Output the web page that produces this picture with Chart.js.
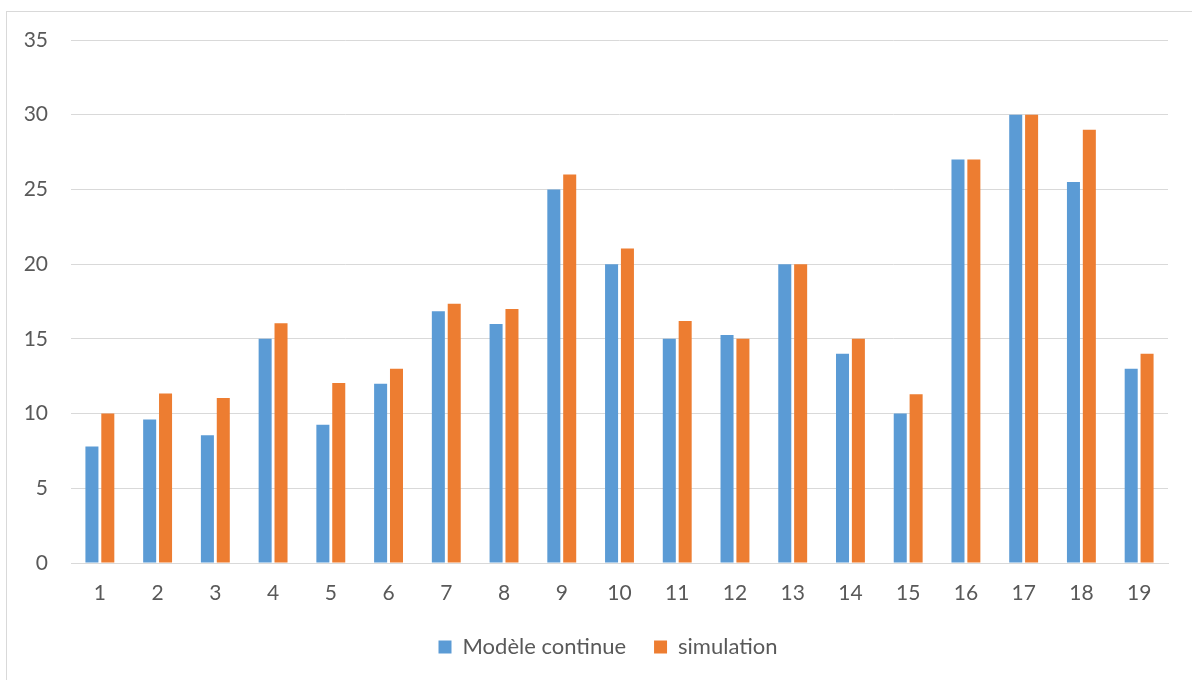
<!DOCTYPE html>
<html>
<head>
<meta charset="utf-8">
<script src="https://cdn.jsdelivr.net/npm/chart.js@4"></script>
<style>
    html, body { margin: 0; padding: 0; background: #fff; }
    #wrap { position: relative; width: 1192px; height: 680px; overflow: hidden; }
    #frame { position: absolute; left: 6px; top: 11px; width: 1200px; height: 700px; border: 1px solid #d9d9d9; }
    #chart { position: absolute; left: 0; top: 0; }
</style>
</head>
<body>
<div id="wrap">
    <div id="frame"></div>
    <canvas id="chart" width="1192" height="680"></canvas>
</div>
<script>
var categories = ['1', '2', '3', '4', '5', '6', '7', '8', '9', '10',
    '11', '12', '13', '14', '15', '16', '17', '18', '19'];
var modeleContinue = [7.8, 9.6, 8.55, 15, 9.25, 12, 16.85, 16, 25, 20,
    15, 15.25, 20, 14, 10, 27, 30, 25.5, 13];
var simulation = [10, 11.35, 11.05, 16.05, 12.05, 13, 17.35, 17, 26, 21.05,
    16.2, 15, 20, 15, 11.3, 27, 30, 29, 14];
var yTicks = [0, 5, 10, 15, 20, 25, 30, 35];

var textColor = '#595959';
var gridColor = '#d9d9d9';
var fontFamily = 'Lato, "Liberation Sans", sans-serif';

// the original legend sits a bit right of centre
var legendShift = {
    id: 'legendShift',
    afterLayout: function (chart) {
        var lg = chart.legend;
        if (lg) {
            lg.left = 48;
            lg.width = lg.right - lg.left;
        }
    }
};

new Chart(document.getElementById('chart'), {
    type: 'bar',
    data: {
        labels: categories,
        datasets: [{
            label: 'Modèle continue',
            data: modeleContinue,
            backgroundColor: '#5b9bd5',
            categoryPercentage: 0.55,
            barPercentage: 0.82
        }, {
            label: 'simulation',
            data: simulation,
            backgroundColor: '#ed7d31',
            categoryPercentage: 0.55,
            barPercentage: 0.82
        }]
    },
    plugins: [legendShift],
    options: {
        responsive: false,
        animation: false,
        layout: {
            padding: { top: 40, right: 24, bottom: 12, left: 0 }
        },
        plugins: {
            tooltip: { enabled: false },
            legend: {
                position: 'bottom',
                labels: {
                    color: textColor,
                    font: { family: fontFamily, size: 22 },
                    boxWidth: 13,
                    boxHeight: 13,
                    padding: 28
                }
            }
        },
        scales: {
            x: {
                grid: { display: false, drawTicks: false },
                border: { color: gridColor, width: 1 },
                ticks: {
                    color: textColor,
                    font: { family: fontFamily, size: 21 },
                    padding: 18
                },
                afterFit: function (scale) {
                    scale.height = 45;
                }
            },
            y: {
                min: 0,
                max: 35,
                afterBuildTicks: function (scale) {
                    scale.ticks = yTicks.map(function (v) { return { value: v }; });
                },
                grid: { color: gridColor, lineWidth: 1, drawTicks: false },
                border: { display: false },
                ticks: {
                    color: textColor,
                    font: { family: fontFamily, size: 21 },
                    padding: 23
                },
                afterFit: function (scale) {
                    scale.width = 71;
                }
            }
        }
    }
});
</script>
</body>
</html>
